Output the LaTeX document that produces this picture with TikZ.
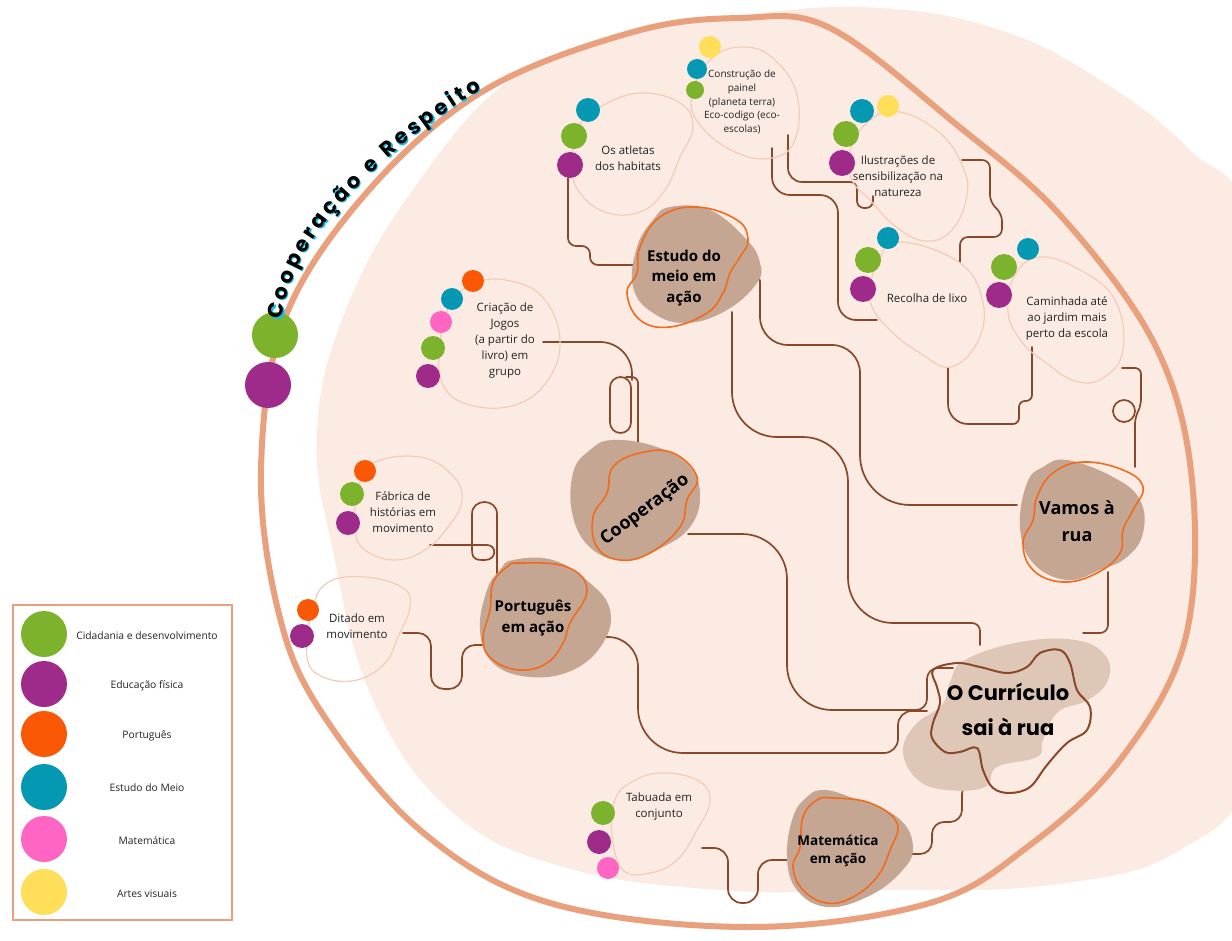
\documentclass[tikz,border=0pt]{standalone}
\usepackage{fontspec}
\setmainfont{Open Sans}
\newfontfamily\hand{Poppins}
\usetikzlibrary{decorations.text}
\definecolor{peach}{RGB}{252,235,226}
\definecolor{ringc}{RGB}{233,161,125}
\definecolor{actline}{RGB}{243,204,184}
\definecolor{hubbrown}{RGB}{196,166,147}
\definecolor{huborange}{RGB}{242,107,29}
\definecolor{connc}{RGB}{138,72,42}
\definecolor{currlight}{RGB}{223,199,184}
\definecolor{labc}{RGB}{35,35,35}
\definecolor{cgreen}{RGB}{124,178,44}
\definecolor{cpurple}{RGB}{158,42,138}
\definecolor{corange}{RGB}{250,88,5}
\definecolor{cteal}{RGB}{4,152,178}
\definecolor{cpink}{RGB}{255,102,196}
\definecolor{cyellow}{RGB}{255,222,89}
\definecolor{glow}{RGB}{20,190,230}
\tikzset{
  actblob/.style={draw=actline, line width=1.2pt},
  hubfill/.style={fill=hubbrown},
  hubline/.style={draw=huborange, line width=1.6pt},
  conn/.style={draw=connc, line width=1.7pt, line cap=round},
  lab/.style={font=\fontsize{11.5}{16}\selectfont, text=labc, align=center, inner sep=0pt},
  labs/.style={font=\fontsize{10}{13.8}\selectfont, text=labc, align=center, inner sep=0pt},
  hub/.style={font=\bfseries\fontsize{15}{20.5}\selectfont, align=center, inner sep=0pt},
  hubL/.style={font=\bfseries\fontsize{18}{27}\selectfont, align=center, inner sep=0pt},
  currlab/.style={font=\hand\bfseries\fontsize{21}{35}\selectfont, align=center, inner sep=0pt},
  leglab/.style={font=\fontsize{10.3}{12}\selectfont, text=labc, inner sep=0pt},
}
\newcommand\mydot[3]{\fill[#1] (#2) circle[radius=#3pt];}
\begin{document}
\begin{tikzpicture}[x=1pt,y=-1pt]
\useasboundingbox (0,0) rectangle (1232,941);
\fill[white] (0,0) rectangle (1232,941);
% peach background
\fill[peach] plot[smooth cycle, tension=0.7] coordinates {(317,430) (350,300) (420,180) (510,80) (620,35) (750,14) (880,8) (1000,30) (1100,80) (1190,150) (1250,230) (1262,500) (1250,760) (1180,850) (1050,885) (880,890) (720,890) (560,866) (450,810) (373,700) (335,560)};
% ring
\draw[ringc, line width=6pt] plot[smooth cycle, tension=0.6] coordinates {(261,470) (285,318) (369,190) (485,90) (633,32) (740,18) (830,28) (957,125) (1060,215) (1155,345) (1192,480) (1185,640) (1120,760) (1030,845) (930,903) (750,927) (550,903) (420,830) (320,710) (278,610)};
% big circles on ring
\mydot{cgreen}{275,335}{23}
\mydot{cpurple}{268,385}{23}
% arc text
\path[decorate, decoration={text along path, text align={fit to path}, text={|\hand\bfseries\fontsize{21}{21}\selectfont\color{glow}|Cooperação e Respeito}}] (283.2,321.2) .. controls (289.2,283.2) and (303.2,254.2) .. (327.2,223.2) .. controls (352.2,192.2) and (411.2,131.2) .. (483.2,91.2);
\path[decorate, decoration={text along path, text align={fit to path}, text={|\hand\bfseries\fontsize{21}{21}\selectfont\color{black}|Cooperação e Respeito}}] (282,320) .. controls (288,282) and (302,253) .. (326,222) .. controls (351,191) and (410,130) .. (482,90);

% ---------- connectors ----------
\draw[conn, rounded corners=8pt] (568,178) -- (568,246) -- (590,246) -- (590,265) -- (633,265);
\draw[conn, rounded corners=18pt] (772,148) -- (772,195) -- (838,195) -- (838,320) -- (877,320);
\draw[conn, rounded corners=14pt] (788,135) -- (788,182) -- (830,182);
\draw[conn, rounded corners=7pt] (820,182) -- (857,182) -- (857,208) -- (873,208) -- (873,196);
\draw[conn, rounded corners=8pt] (962,160) -- (990,160) -- (990,203) -- (1002,213) -- (1002,237) -- (960,237) -- (960,262);
\draw[conn, rounded corners=20pt] (948,368) -- (948,424) -- (1000,424);
\draw[conn, rounded corners=6pt] (995,424) -- (1019,424) -- (1019,401) -- (1032,401) -- (1032,347);
\draw[conn, rounded corners=6pt] (1122,368) -- (1141,368) -- (1141,405) -- (1135,418) -- (1135,467);
\draw[conn] (1124,411) circle[radius=11pt];
\draw[conn, rounded corners=8pt] (1108,572) -- (1108,633) -- (1083,633);
\draw[conn, rounded corners=4pt] (753,277) -- (760,277) -- (760,300);
\draw[conn, rounded corners=28pt] (760,295) -- (760,345) -- (860,345) -- (860,420);
\draw[conn, rounded corners=50pt] (860,410) -- (860,505) -- (1017,505);
\draw[conn, rounded corners=45pt] (732,312) -- (732,437) -- (848,437) -- (848,623) -- (950,623);
\draw[conn, rounded corners=8pt] (940,623) -- (980,623) -- (980,645);
\draw[conn, rounded corners=32pt] (543,342) -- (632,342) -- (632,380);
\draw[conn, rounded corners=10.5pt] (610,377) rectangle (631,433);
\draw[conn, rounded corners=6pt] (626,377) -- (638,377) -- (638,455);
\draw[conn, rounded corners=45pt] (688,534) -- (787,534) -- (787,710) -- (900,710);
\draw[conn, rounded corners=11pt] (895,710) -- (927,710) -- (927,668) -- (953,668);
\draw[conn, rounded corners=30pt] (572,637) -- (638,637) -- (638,700);
\draw[conn, rounded corners=45pt] (638,690) -- (638,753) -- (880,753);
\draw[conn, rounded corners=14pt] (870,753) -- (898,753) -- (898,711) -- (927,711);
\draw[conn, rounded corners=13pt] (488,645) -- (462,645) -- (462,689) -- (431,689) -- (431,633) -- (403,633);
\draw[conn] (430,545) -- (487,545) .. controls (497,545) and (497,560) .. (485,560) -- (482,560) .. controls (472,560) and (472,555) .. (472,548) -- (472,514) .. controls (472,498) and (497,498) .. (497,514) -- (497,577);
\draw[conn, rounded corners=14pt] (702,848) -- (728,848) -- (728,903) -- (758,903) -- (758,860) -- (787,860);
\draw[conn, rounded corners=12pt] (890,854) -- (932,854) -- (932,822) -- (962,822) -- (962,782) -- (987,782);

% ---------- activity blobs ----------
\draw[actblob] plot[smooth cycle, tension=0.7] coordinates {(600,107) (640,93) (680,103) (693,127) (680,157) (665,190) (640,212) (605,212) (578,190) (572,160) (580,125)};
\draw[actblob] plot[smooth cycle, tension=0.7] coordinates {(700,125) (692,95) (712,58) (745,47) (775,60) (797,95) (795,140) (772,158) (735,152)};
\draw[actblob] plot[smooth cycle, tension=0.7] coordinates {(900,112) (940,133) (962,165) (967,195) (952,230) (925,241) (895,226) (870,200) (852,180) (850,150) (870,120)};
\draw[actblob] plot[smooth cycle, tension=0.7] coordinates {(900,242) (960,263) (983,303) (977,343) (950,367) (920,353) (890,330) (870,300) (878,262)};
\draw[actblob] plot[smooth cycle, tension=0.7] coordinates {(1040,257) (1080,270) (1115,300) (1123,350) (1103,378) (1075,381) (1045,362) (1022,342) (1008,312) (1015,275)};
\draw[actblob] plot[smooth cycle, tension=0.7] coordinates {(477,282) (515,282) (545,300) (560,340) (548,380) (515,405) (470,405) (443,385) (440,345) (450,305)};
\draw[actblob] plot[smooth cycle, tension=0.7] coordinates {(373,463) (420,457) (452,475) (462,500) (448,527) (425,550) (395,560) (365,550) (355,530) (358,490)};
\draw[actblob] plot[smooth cycle, tension=0.7] coordinates {(327,583) (365,577) (403,588) (410,607) (398,637) (385,663) (357,680) (323,677) (307,657) (312,612)};
\draw[actblob] plot[smooth cycle, tension=0.7] coordinates {(630,783) (660,773) (697,780) (710,800) (697,830) (677,860) (650,873) (623,870) (612,835) (615,800)};

% ---------- hub blobs ----------
\fill[hubfill] plot[smooth cycle, tension=0.7] coordinates {(670,207) (710,210) (747,240) (760,263) (757,283) (727,310) (687,323) (653,313) (633,287) (637,247) (653,220)};
\draw[hubline] plot[smooth cycle, tension=0.7] coordinates {(697,207) (737,220) (748,240) (740,257) (730,273) (723,293) (707,313) (670,327) (640,320) (627,293) (637,273) (640,247) (660,217)};
\fill[hubfill] plot[smooth cycle, tension=0.7] coordinates {(613,440) (657,447) (690,467) (700,497) (690,527) (663,547) (627,560) (593,550) (573,517) (573,473) (590,450)};
\draw[hubline] plot[smooth cycle, tension=0.7] coordinates {(640,453) (673,453) (697,477) (687,500) (680,527) (650,553) (620,560) (597,547) (593,517) (607,493) (613,467)};
\fill[hubfill] plot[smooth cycle, tension=0.7] coordinates {(513,560) (553,560) (590,583) (610,610) (603,643) (573,670) (530,677) (493,663) (480,630) (487,590) (500,570)};
\draw[hubline] plot[smooth cycle, tension=0.7] coordinates {(520,563) (567,567) (587,590) (570,623) (563,643) (547,663) (520,670) (493,660) (483,640) (490,610) (493,583) (507,567)};
\fill[hubfill] plot[smooth cycle, tension=0.7] coordinates {(1067,460) (1113,477) (1140,500) (1143,533) (1127,557) (1100,570) (1067,580) (1033,563) (1020,527) (1027,483) (1043,467)};
\draw[hubline] plot[smooth cycle, tension=0.7] coordinates {(1083,462) (1123,470) (1143,487) (1133,510) (1123,530) (1120,553) (1097,573) (1063,582) (1033,570) (1023,543) (1033,520) (1037,497) (1053,473)};
\fill[hubfill] plot[smooth cycle, tension=0.7] coordinates {(823,790) (850,797) (897,817) (913,847) (900,873) (867,897) (827,907) (797,890) (787,857) (793,817) (807,797)};
\draw[hubline] plot[smooth cycle, tension=0.7] coordinates {(833,798) (870,803) (897,823) (890,850) (877,877) (853,897) (827,903) (803,890) (793,867) (800,847) (803,817) (817,800)};
\fill[currlight] plot[smooth cycle, tension=0.7] coordinates {(965,660) (1020,642) (1075,640) (1105,655) (1108,680) (1088,700) (1058,712) (1043,740) (1037,757) (997,767) (985,787) (947,790) (918,780) (903,752) (915,725) (942,705) (950,682)};
\draw[connc, line width=2pt] plot[smooth cycle, tension=0.6] coordinates {(933,670) (957,663) (980,667) (1007,673) (1027,667) (1040,653) (1060,650) (1070,663) (1077,690) (1090,707) (1087,730) (1067,743) (1047,765) (1030,787) (1010,793) (993,788) (983,770) (977,748) (960,752) (945,752) (932,738) (933,723) (940,703) (937,687)};

% ---------- dots ----------
\mydot{cteal}{588,110}{12} \mydot{cgreen}{574,136}{13} \mydot{cpurple}{570,165}{13}
\mydot{cyellow}{710,47}{11} \mydot{cteal}{697,69}{10} \mydot{cgreen}{695,90}{9}
\mydot{cteal}{862,111}{12} \mydot{cyellow}{888,106}{11} \mydot{cgreen}{846,134}{13} \mydot{cpurple}{842,163}{13}
\mydot{cteal}{888,238}{11} \mydot{cgreen}{868,260}{13} \mydot{cpurple}{863,289}{13}
\mydot{cteal}{1028,249}{11} \mydot{cgreen}{1004,267}{13} \mydot{cpurple}{999,295}{13}
\mydot{corange}{473,281}{11} \mydot{cteal}{452,299}{11} \mydot{cpink}{441,322}{11} \mydot{cgreen}{433,348}{12} \mydot{cpurple}{428,376}{12}
\mydot{corange}{365,471}{11} \mydot{cgreen}{352,494}{12} \mydot{cpurple}{348,523}{12}
\mydot{corange}{308,610}{11} \mydot{cpurple}{302,636}{12}
\mydot{cgreen}{603,813}{12} \mydot{cpurple}{599,842}{12} \mydot{cpink}{608,868}{11}

% ---------- labels ----------
\node[lab] (atletas) at (628,158) {Os atletas\\dos habitats};
\node[labs] (painel) at (742,102) {Construção de\\painel\\(planeta terra)\\Eco-codigo (eco-\\escolas)};
\node[lab] (ilus) at (898,176) {Ilustrações de\\sensibilização na\\natureza};
\node[lab] (recolha) at (927,298) {Recolha de lixo};
\node[lab] (caminhada) at (1067,318) {Caminhada até\\ao jardim mais\\perto da escola};
\node[lab] (criacao) at (505,341) {Criação de\\Jogos\\(a partir do\\livro) em\\grupo};
\node[lab] (fabrica) at (403,512) {Fábrica de\\histórias em\\movimento};
\node[lab] (ditado) at (357,626) {Ditado em\\movimento};
\node[lab] (tabuada) at (659,807) {Tabuada em\\conjunto};
\node[hub] (estudo) at (684,278) {Estudo do\\meio em\\ação};
\node[hub] (portugues) at (533,618) {Português\\em ação};
\node[hub, font=\bfseries\fontsize{13.5}{18.5}\selectfont] (matematica) at (838,851) {Matemática\\em ação};
\node[hubL] (vamos) at (1077,521) {Vamos à\\rua};
\node[hubL, rotate=37] (coop) at (645,510) {Cooperação};
\node[currlab] (curric) at (1008,709) {O Currículo\\sai à rua};

% ---------- legend ----------
\draw[ringc, line width=2.5pt, fill=white] (13,605) rectangle (232,920);
\mydot{cgreen}{44,634}{23}
\mydot{cpurple}{44,684}{23}
\mydot{corange}{44,734}{23}
\mydot{cteal}{44,787}{23}
\mydot{cpink}{44,839}{23}
\mydot{cyellow}{44,892}{23}
\node[leglab] (l1) at (147,636) {Cidadania e desenvolvimento};
\node[leglab] (l2) at (147,686) {Educação física};
\node[leglab] (l3) at (147,736) {Português};
\node[leglab] (l4) at (147,788) {Estudo do Meio};
\node[leglab] (l5) at (147,841) {Matemática};
\node[leglab] (l6) at (147,894) {Artes visuais};
\end{tikzpicture}
\end{document}
